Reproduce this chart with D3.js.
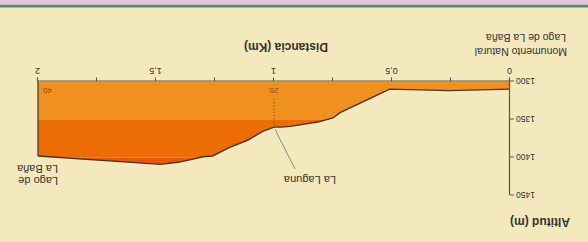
<!DOCTYPE html>
<html><head><meta charset="utf-8">
<script src="https://cdn.jsdelivr.net/npm/d3@7"></script>
<style>html,body{margin:0;padding:0;background:#f3e9bd}svg{display:block}text{font-family:"Liberation Sans",Arial,sans-serif}</style>
</head><body>
<script>
const distance = [0, 0.26, 0.51, 0.59, 0.72, 0.75, 0.81, 0.93, 0.97, 1.0, 1.05, 1.11, 1.19, 1.26, 1.30, 1.40, 1.48, 2.0];
const altitude = [1310, 1312, 1310, 1322, 1341, 1348, 1353, 1359, 1360, 1360, 1366, 1377, 1387, 1398, 1399, 1406, 1409, 1398];
const xTicks = [0, 0.25, 0.5, 0.75, 1, 1.25, 1.5, 1.75, 2];
const xLabels = ["0", "", "0,5", "", "1", "", "1,5", "", "2"];
const yTicks = [1300, 1350, 1400, 1450];
const bands = [[1300, 1350], [1350, 1400], [1400, 1450]];
const bandColors = ["#f0911f", "#ec6d03", "#e85808"];
const markers = [{d: 1.0, label: "20."}, {d: 1.96, label: "40."}];

const W = 588, H = 242;
const svg = d3.select("body").append("svg").attr("width", W).attr("height", H);
svg.append("rect").attr("width", W).attr("height", H).attr("fill", "#f3e9bd");
const g = svg.append("g").attr("transform", `rotate(180 ${W/2} ${H/2})`);

// decorative strip (bottom in unrotated frame)
g.append("rect").attr("x", 0).attr("y", 234.5).attr("width", W).attr("height", 3).attr("fill", "#508b7b");
g.append("rect").attr("x", 0).attr("y", 237.5).attr("width", W).attr("height", 4.5).attr("fill", "#e7c3dc");

const x = d3.scaleLinear().domain([0, 2]).range([78, 550]);
const y = d3.scaleLinear().domain([1300, 1450]).range([160.5, 46.5]);

const data = distance.map((d, i) => ({d, a: altitude[i]}));
const area = d3.area().x(p => x(p.d)).y0(y(1300)).y1(p => y(p.a));
const line = d3.line().x(p => x(p.d)).y(p => y(p.a));

g.append("clipPath").attr("id", "prof").append("path").attr("d", area(data));
const bg = g.append("g").attr("clip-path", "url(#prof)");
bands.forEach((b, i) => {
  bg.append("rect").attr("x", x(0)).attr("width", x(2) - x(0))
    .attr("y", y(b[1])).attr("height", y(b[0]) - y(b[1])).attr("fill", bandColors[i]);
});
g.append("path").attr("d", line(data)).attr("fill", "none").attr("stroke", "#3a3a3a").attr("stroke-width", 1.4);
g.append("line").attr("x1", x(2)).attr("x2", x(2)).attr("y1", y(1300)).attr("y2", y(altitude[altitude.length-1]))
  .attr("stroke", "#3a3a3a").attr("stroke-width", 1.2);

// markers
markers.forEach(m => {
  g.append("text").attr("x", x(m.d) + 1).attr("y", y(1312)).attr("text-anchor", "middle")
    .attr("dominant-baseline", "central").attr("font-size", 8).attr("fill", "#7a4a1a").text(m.label);
});
g.append("line").attr("x1", x(1)).attr("x2", x(1)).attr("y1", y(1323)).attr("y2", y(1358))
  .attr("stroke", "#7a4a1a").attr("stroke-dasharray", "1.2,2").attr("stroke-width", 1);

// axes
const xAxis = d3.axisBottom(x).tickValues(xTicks).tickSize(4).tickPadding(3)
  .tickFormat((d, i) => xLabels[i]);
const gx = g.append("g").attr("transform", `translate(0,${y(1300)})`).call(xAxis);
gx.select(".domain").attr("stroke", "#555").attr("stroke-width", 1.2);
gx.selectAll(".tick line").attr("stroke", "#555");
gx.selectAll("text").attr("font-size", 9).attr("fill", "#333");

const yAxis = d3.axisLeft(y).tickValues(yTicks).tickSize(4).tickSizeOuter(0).tickPadding(2).tickFormat(d3.format("d"));
const gy = g.append("g").attr("transform", `translate(${x(0)},0)`).call(yAxis);
gy.select(".domain").attr("stroke", "#555").attr("stroke-width", 1.2);
gy.selectAll(".tick line").attr("stroke", "#555");
gy.selectAll("text").attr("font-size", 8.5).attr("fill", "#333");

// titles
g.append("text").attr("x", 302).attr("y", 195).attr("text-anchor", "middle").attr("dominant-baseline", "central")
  .attr("font-size", 12).attr("font-weight", "bold").attr("fill", "#333").text("Distancia (Km)");
g.append("text").attr("x", 18).attr("y", 20).attr("dominant-baseline", "central")
  .attr("font-size", 12).attr("font-weight", "bold").attr("fill", "#333").text("Altitud (m)");
g.append("text").attr("x", 21).attr("y", 190).attr("dominant-baseline", "central")
  .attr("font-size", 10.5).attr("fill", "#333").text("Monumento Natural");
g.append("text").attr("x", 22).attr("y", 204).attr("dominant-baseline", "central")
  .attr("font-size", 10.5).attr("fill", "#333").text("Lago de La Baña");
g.append("text").attr("x", 530).attr("y", 61).attr("dominant-baseline", "central")
  .attr("font-size", 11).attr("fill", "#333").text("Lago de");
g.append("text").attr("x", 530).attr("y", 73).attr("dominant-baseline", "central")
  .attr("font-size", 11).attr("fill", "#333").text("La Baña");
g.append("text").attr("x", 252).attr("y", 62).attr("dominant-baseline", "central")
  .attr("font-size", 11).attr("fill", "#333").text("La Laguna");
g.append("line").attr("x1", x(1) - 1).attr("y1", y(1363)).attr("x2", 293).attr("y2", 73)
  .attr("stroke", "#888").attr("stroke-width", 1);
</script>
</body></html>
